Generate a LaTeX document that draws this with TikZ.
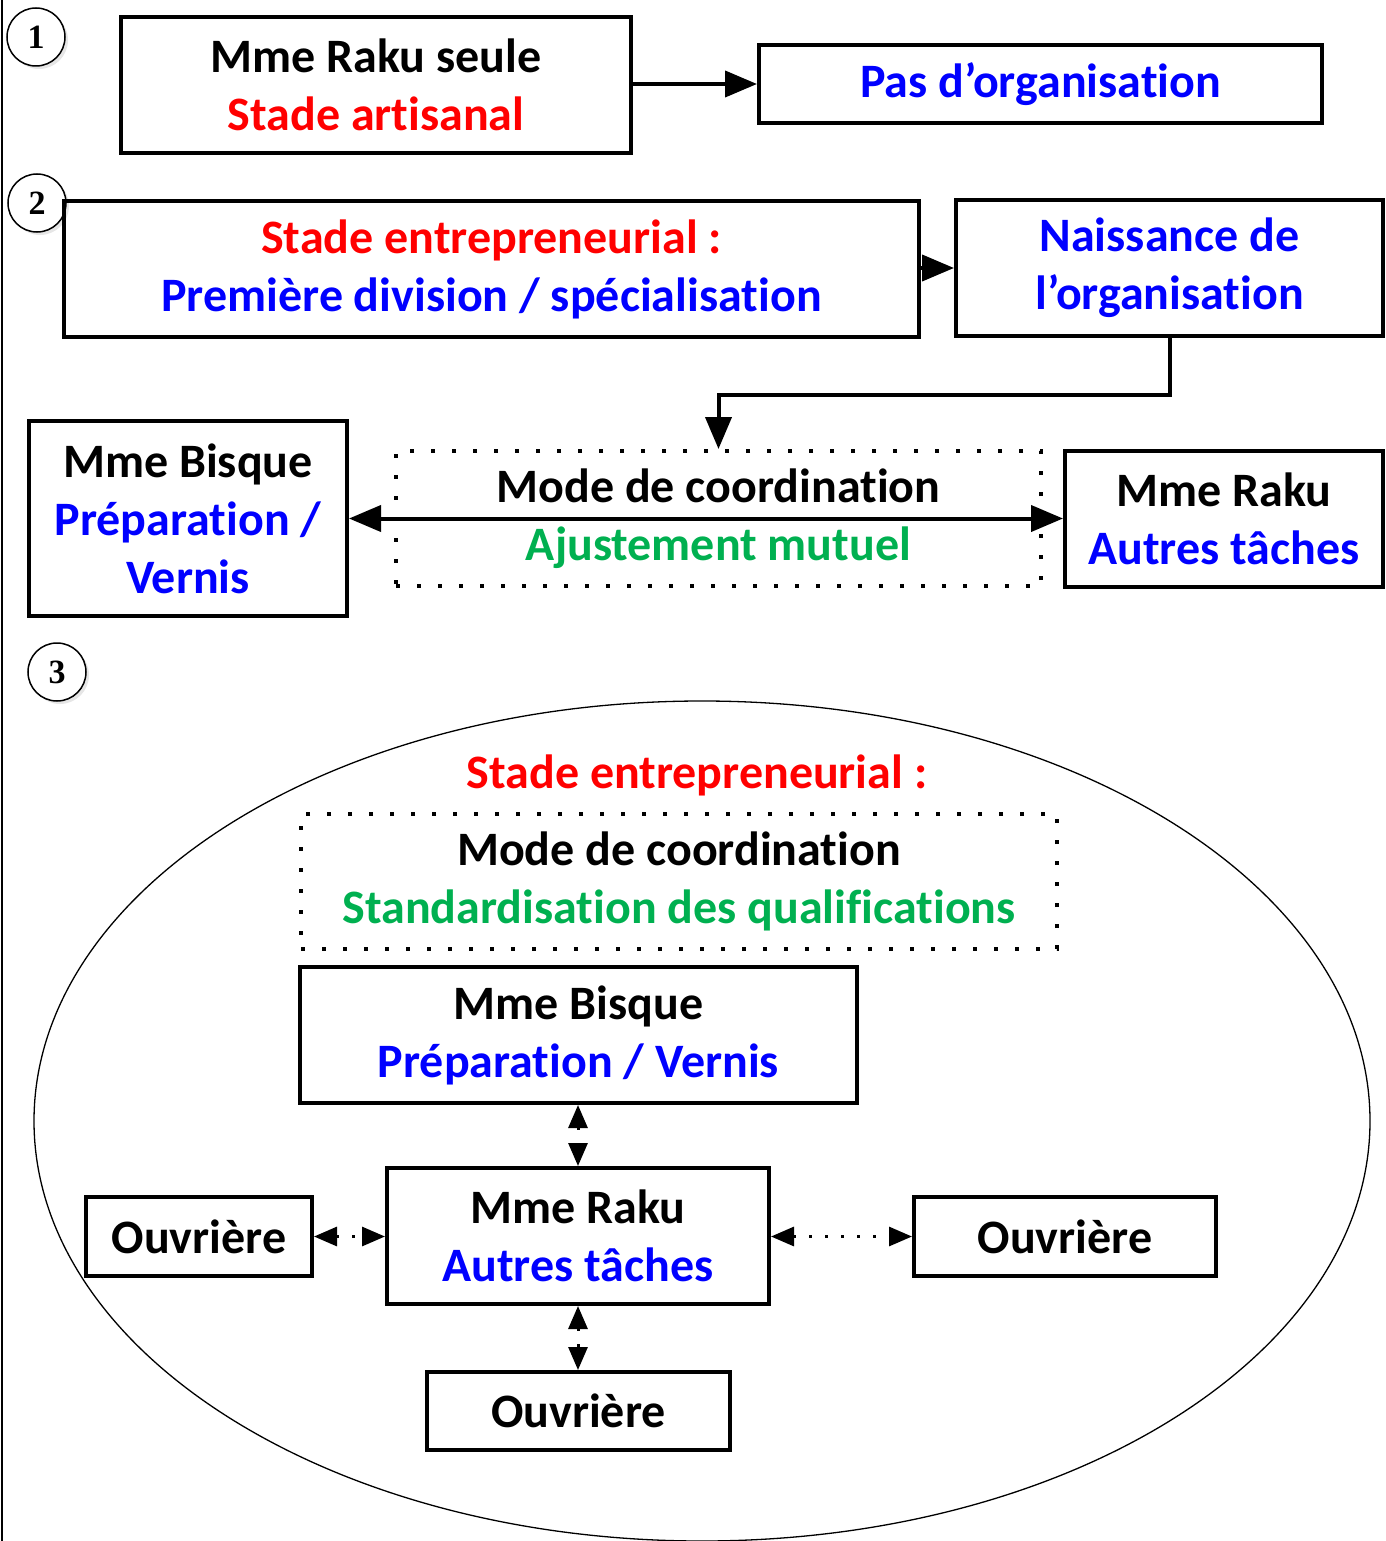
\documentclass[tikz,border=0pt]{standalone}
\usepackage{fontspec}
\setmainfont{Carlito}[Ligatures=NoCommon]
\newfontfamily\numfont{Liberation Serif}
\usetikzlibrary{arrows.meta,shadows}
\definecolor{rd}{RGB}{255,0,0}
\definecolor{bl}{RGB}{0,0,255}
\definecolor{gr}{RGB}{0,176,80}
\begin{document}
\begin{tikzpicture}[x=1pt,y=-1pt,
  txt/.style={inner sep=0pt,align=center,font=\bfseries\fontsize{48}{58}\selectfont},
  box/.style={txt,draw,line width=4pt},
  dotbox/.style={txt,draw,line width=4pt,dash pattern=on 4pt off 17pt},
  num/.style={circle,draw,line width=1.5pt,minimum size=58pt,inner sep=0pt,fill=white,
    font=\numfont\bfseries\fontsize{34}{34}\selectfont,
    drop shadow={opacity=0.2,shadow xshift=3pt,shadow yshift=-3pt}},
  conn/.style={line width=4pt,-{Triangle[length=32pt,width=26pt]}},
  biconn/.style={line width=4pt,{Triangle[length=32pt,width=26pt]}-{Triangle[length=32pt,width=26pt]}},
  dotconn/.style={line width=3pt,dash pattern=on 3pt off 13pt,{Triangle[length=23pt,width=19pt]}-{Triangle[length=23pt,width=19pt]}}]
\useasboundingbox (0,0) rectangle (1385,1541);
\draw[line width=2pt] (2,0) -- (2,1541);

% numbers
\node[num] (n1) at (36,37) {1};
\node[num] (n2) at (37,203) {2};
\node[num] (n3) at (57,672) {3};

% part 1
\node[box,minimum width=510pt,minimum height=136pt] (A) at (376,85) {Mme Raku seule\\\textcolor{rd}{Stade artisanal}};
\node[box,minimum width=563pt,minimum height=78pt] (B) at (1040.5,84) {\textcolor{bl}{Pas d’organisation}};
\draw[conn] (A.east |- B.west) -- (B.west);

% part 2
\node[box,minimum width=855pt,minimum height=136pt] (C) at (491.5,269) {\textcolor{rd}{Stade entrepreneurial :}\\\textcolor{bl}{Première division / spécialisation}};
\node[box,minimum width=427pt,minimum height=136pt] (D) at (1169.5,268) {\textcolor{bl}{Naissance de}\\\textcolor{bl}{l’organisation}};
\draw[conn] (C.east |- D.west) -- (D.west);

\node[dotbox,minimum width=645pt,minimum height=135pt] (E) at (718.5,518.5) {Mode de coordination\\\textcolor{gr}{Ajustement mutuel}};
\node[box,minimum width=318pt,minimum height=195pt] (F) at (188,518.5) {Mme Bisque\\\textcolor{bl}{Préparation /}\\\textcolor{bl}{Vernis}};
\node[box,minimum width=318pt,minimum height=136pt] (G) at (1224,519) {Mme Raku\\\textcolor{bl}{Autres tâches}};
\draw[conn] (D.south) -- ++(0,57) -| (E.north);
\draw[biconn] (F.east) -- (F.east -| G.west);

% part 3
\draw[line width=1.3pt] (702,1121) ellipse [x radius=668pt, y radius=420pt];
\node[txt] (S) at (697,775) {\textcolor{rd}{Stade entrepreneurial :}};
\node[dotbox,minimum width=756pt,minimum height=135pt] (H) at (679,881.5) {Mode de coordination\\\textcolor{gr}{Standardisation des qualifications}};
\node[box,minimum width=557pt,minimum height=136pt] (I) at (578.5,1035) {Mme Bisque\\\textcolor{bl}{Préparation / Vernis}};
\node[box,minimum width=382pt,minimum height=136pt] (J) at (578,1236) {Mme Raku\\\textcolor{bl}{Autres tâches}};
\node[box,minimum width=226pt,minimum height=79pt] (K) at (199,1236.5) {Ouvrière};
\node[box,minimum width=302pt,minimum height=79pt] (L) at (1065,1236.5) {Ouvrière};
\node[box,minimum width=303pt,minimum height=78pt] (M) at (578.5,1411) {Ouvrière};
\draw[dotconn] (I.south -| J.north) -- (J.north);
\draw[dotconn] (K.east) -- (K.east -| J.west);
\draw[dotconn] (J.east |- L.west) -- (L.west);
\draw[dotconn] (J.south) -- (J.south |- M.north);
\end{tikzpicture}
\end{document}
